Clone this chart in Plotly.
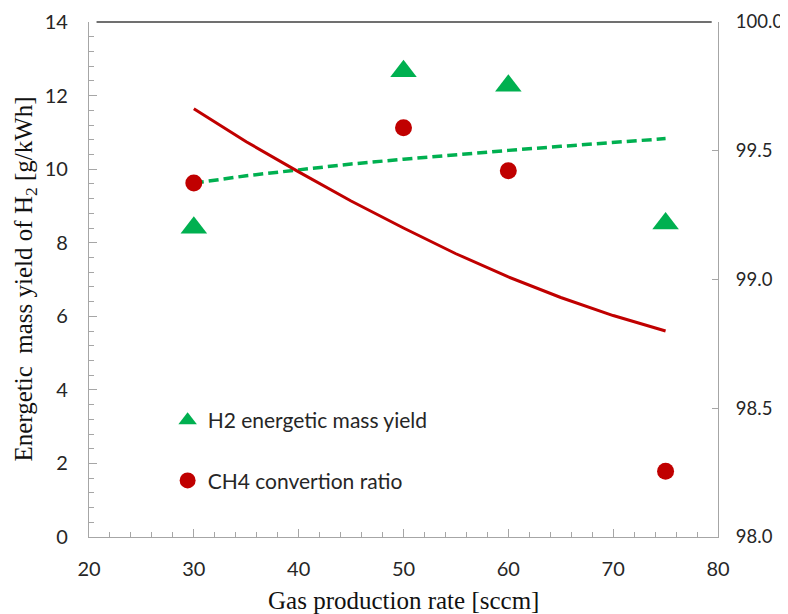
import plotly.graph_objects as go

# Measured data
rate = [30, 50, 60, 75]
h2_yield = [8.41, 12.66, 12.27, 8.52]          # left axis, g/kWh
ch4_conv = [99.375, 99.589, 99.422, 98.255]    # right axis, %

# Trend lines
trend_x = [30, 35, 40, 45, 50, 55, 60, 65, 70, 75]
h2_trend = [9.62, 9.82, 9.98, 10.14, 10.27, 10.40, 10.51, 10.62, 10.73, 10.83]
ch4_trend = [99.663, 99.535, 99.418, 99.305, 99.20, 99.10, 99.01, 98.93, 98.86, 98.80]

GREEN = "#00B050"
RED = "#C00000"
AX = "#A6A6A6"
TXT = "#262626"
SANS = "Lato"
SERIF = "Liberation Serif"

fig = go.Figure()
fig.add_trace(go.Scatter(x=trend_x, y=h2_trend, mode="lines",
                         line=dict(color=GREEN, width=3.5, dash="10px,5px"),
                         showlegend=False, hoverinfo="skip"))
fig.add_trace(go.Scatter(x=trend_x, y=ch4_trend, mode="lines", yaxis="y2",
                         line=dict(color=RED, width=3),
                         showlegend=False, hoverinfo="skip"))
fig.add_trace(go.Scatter(x=rate, y=h2_yield, mode="markers", name="H2 energetic mass yield",
                         marker=dict(symbol="triangle-up", size=23, color=GREEN),
                         legendgroup="a"))
fig.add_trace(go.Scatter(x=rate, y=ch4_conv, mode="markers", name="CH4 convertion ratio",
                         yaxis="y2", marker=dict(symbol="circle", size=17, color=RED),
                         legendgroup="b"))

fig.update_layout(
    width=780, height=606,
    margin=dict(l=81, r=70, t=14, b=77, autoexpand=False),
    paper_bgcolor="white", plot_bgcolor="white",
    font=dict(family=SANS, size=20, color=TXT),
    xaxis=dict(range=[20, 80], dtick=10, tick0=20, showgrid=False, zeroline=False,
               showline=True, linecolor=AX, linewidth=1.3, automargin=False,
               ticks="inside", ticklen=8, tickcolor=AX, tickwidth=1.3,
               minor=dict(dtick=2, ticks="inside", ticklen=5, tickcolor=AX, tickwidth=1.3),
               ticklabelstandoff=14),
    yaxis=dict(range=[0, 14], dtick=2, tick0=0, showgrid=False, zeroline=False,
               showline=True, linecolor=AX, linewidth=1.3, automargin=False,
               ticks="inside", ticklen=8, tickcolor=AX, tickwidth=1.3,
               minor=dict(dtick=0.4, ticks="inside", ticklen=5, tickcolor=AX, tickwidth=1.3),
               ticklabelstandoff=16),
    yaxis2=dict(range=[98.0, 100.0], dtick=0.5, tick0=98, overlaying="y", side="right",
                showgrid=False, zeroline=False, showline=True, linecolor=AX, linewidth=1.3,
                automargin=False, tickfont=dict(family=SANS, size=18.5, color=TXT),
                ticks="inside", ticklen=6, tickcolor=AX, tickwidth=1.3,
                tickformat=".1f", ticklabelstandoff=13),
    legend=dict(x=0.125, y=0.266, xanchor="left", yanchor="top", bgcolor="rgba(0,0,0,0)",
                font=dict(family=SANS, size=21, color=TXT), tracegroupgap=30,
                itemwidth=30),
    showlegend=True,
    shapes=[dict(type="line", xref="paper", yref="paper", x0=0.012, x1=0.99, y0=1, y1=1,
                 line=dict(color="#404040", width=1.3))],
    annotations=[
        dict(text="Gas production rate [sccm]", xref="paper", yref="paper", x=0.5, y=0,
             yshift=-63, xanchor="center", yanchor="middle", showarrow=False,
             font=dict(family=SERIF, size=25, color="#111")),
        dict(text="Energetic  mass yield of H<sub>2</sub> [g/kWh]", xref="paper", yref="paper",
             x=0, y=0.5, xshift=-64, xanchor="center", yanchor="middle", textangle=-90,
             showarrow=False, font=dict(family=SERIF, size=25, color="#111")),
    ],
)

fig.write_html("out.html")
